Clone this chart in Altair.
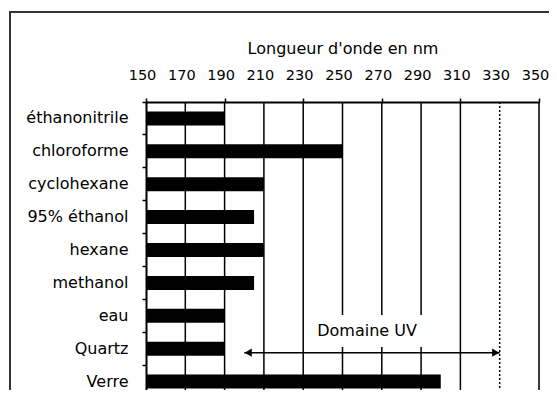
import altair as alt
import pandas as pd

# ---- data ----
solvants = ["éthanonitrile", "chloroforme", "cyclohexane", "95% éthanol",
            "hexane", "methanol", "eau", "Quartz", "Verre"]
longueurs = [190, 250, 210, 205, 210, 205, 190, 190, 300]
tick_values = [150, 170, 190, 210, 230, 250, 270, 290, 310, 330, 350]
grid_values = [170, 190, 210, 230, 250, 270, 290, 310, 330, 350]
grid_styles = ["solid"] * 8 + ["dotted", "solid"]
uv_start, uv_end = 200, 330
uv_label = "Domaine UV"
axis_title = "Longueur d'onde en nm"
label_mask = [235, 292]

FONT = "DejaVu Sans"
W, H = 393, 296

bars_df = pd.DataFrame({"solvant": solvants, "lambda": longueurs})
grid_df = pd.DataFrame({"v": grid_values, "style": grid_styles})
ticks_df = pd.DataFrame({"v": tick_values, "t": [str(v) for v in tick_values]})

xscale = alt.Scale(domain=[150, 350], nice=False, zero=False)
yscale = alt.Scale(domain=solvants, paddingInner=0, paddingOuter=0)
xaxis = alt.Axis(orient="top", values=tick_values, format="d", title=axis_title,
                 grid=False, tickSize=4, tickColor="black", tickWidth=1.5,
                 domainColor="black", domainWidth=2, labels=False,
                 titleFont=FONT, titleFontSize=16,
                 titleFontWeight="normal", titleColor="black", titlePadding=41)

frame = alt.Chart(pd.DataFrame({"a": [0]})).mark_rect(
    filled=False, stroke="#333", strokeWidth=2
).encode(x=alt.value(-136), x2=alt.value(700), y=alt.value(-90), y2=alt.value(600))

grid = alt.Chart(grid_df).mark_rule(color="black", strokeWidth=1.5).encode(
    x=alt.X("v:Q", scale=xscale, axis=xaxis),
    strokeDash=alt.StrokeDash("style:N",
                              scale=alt.Scale(domain=["solid", "dotted"], range=[[1, 0], [2, 2]]),
                              legend=None),
)

tick_labels = alt.Chart(ticks_df).mark_text(
    font=FONT, fontSize=14.5, color="black", align="center", baseline="middle", dx=-3.5
).encode(x=alt.X("v:Q", scale=xscale, axis=xaxis), y=alt.value(-26), text="t:N")

mask = alt.Chart(pd.DataFrame({"a": [label_mask[0]], "b": [label_mask[1]]})).mark_rect(
    color="white"
).encode(x=alt.X("a:Q", scale=xscale, axis=xaxis), x2="b:Q",
         y=alt.value(213), y2=alt.value(245))

bars = alt.Chart(bars_df).mark_bar(color="black", size=14).encode(
    x=alt.X("lambda:Q", scale=xscale, axis=xaxis),
    x2=alt.datum(150),
    y=alt.Y("solvant:N", sort=solvants, scale=yscale,
            axis=alt.Axis(title=None, bandPosition=0, tickSize=4, tickColor="black",
                          tickWidth=1.5, domainColor="black", domainWidth=2,
                          labelFont=FONT, labelFontSize=16, labelColor="black",
                          labelPadding=14)),
)

label = alt.Chart(pd.DataFrame({"t": [uv_label]})).mark_text(
    font=FONT, fontSize=16, color="black", align="center", baseline="middle", yOffset=-18
).encode(x=alt.datum(262.5), y=alt.datum("Quartz"), text="t:N")

arrow = alt.Chart(pd.DataFrame({"a": [uv_start], "b": [uv_end]})).mark_rule(
    color="black", strokeWidth=1.5, yOffset=4
).encode(x=alt.X("a:Q", scale=xscale, axis=xaxis), x2="b:Q", y=alt.datum("Quartz"))

heads = alt.Chart(pd.DataFrame({"v": [uv_start + 2, uv_end - 2],
                                "s": ["triangle-left", "triangle-right"]})).mark_point(
    filled=True, color="black", size=70, opacity=1, yOffset=4
).encode(x=alt.X("v:Q", scale=xscale, axis=xaxis),
         y=alt.datum("Quartz"),
         shape=alt.Shape("s:N", scale=alt.Scale(domain=["triangle-left", "triangle-right"],
                                                range=["triangle-left", "triangle-right"]),
                         legend=None))

chart = alt.layer(frame, grid, tick_labels, mask, bars, label, arrow, heads).properties(
    width=W, height=H,
    autosize=alt.AutoSizeParams(type="none"),
    padding={"left": 138, "top": 94, "right": 10, "bottom": -8},
).configure_view(
    stroke="black", strokeWidth=2
).configure(background="white")

chart.save("out.html", embed_options={"renderer": "svg", "actions": False})
